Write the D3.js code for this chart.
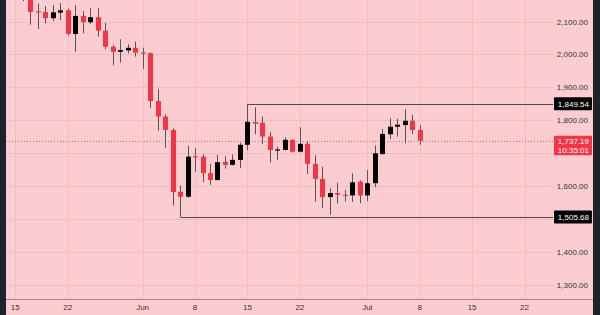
<!DOCTYPE html>
<html>
<head>
<meta charset="utf-8">
<script src="https://cdn.jsdelivr.net/npm/d3@7"></script>
<style>
  html, body { margin: 0; padding: 0; background: #fccdd0; }
  #svg-container { width: 600px; height: 315px; }
  text { font-family: "Liberation Sans", Arial, sans-serif; }
</style>
</head>
<body>
<div id="svg-container"></div>
<script>
////////////////////////////////////////////////////////////////////
////////////////////////////  Data  ////////////////////////////////
const dates = [
  "2022-05-16", "2022-05-17", "2022-05-18", "2022-05-19", "2022-05-20", "2022-05-21",
  "2022-05-22", "2022-05-23", "2022-05-24", "2022-05-25", "2022-05-26", "2022-05-27",
  "2022-05-28", "2022-05-29", "2022-05-30", "2022-05-31", "2022-06-01", "2022-06-02",
  "2022-06-03", "2022-06-04", "2022-06-05", "2022-06-06", "2022-06-07", "2022-06-08",
  "2022-06-09", "2022-06-10", "2022-06-11", "2022-06-12", "2022-06-13", "2022-06-14",
  "2022-06-15", "2022-06-16", "2022-06-17", "2022-06-18", "2022-06-19", "2022-06-20",
  "2022-06-21", "2022-06-22", "2022-06-23", "2022-06-24", "2022-06-25", "2022-06-26",
  "2022-06-27", "2022-06-28", "2022-06-29", "2022-06-30", "2022-07-01", "2022-07-02",
  "2022-07-03", "2022-07-04", "2022-07-05", "2022-07-06", "2022-07-07", "2022-07-08",
];
const open = [
  2200, 2180, 2131, 2129, 2110, 2127, 2134, 2062, 2117, 2098, 2113, 2072,
  2023, 2008, 2012, 2020, 2006, 2004, 1858, 1811, 1770, 1582, 1567, 1690,
  1689, 1639, 1618, 1673, 1664, 1679, 1725, 1794, 1792, 1750, 1708, 1709,
  1740, 1704, 1728, 1667, 1621, 1566, 1578, 1573, 1571, 1613, 1571, 1608,
  1697, 1757, 1780, 1785, 1798, 1770,
];
const high = [
  2230, 2190, 2155, 2147, 2150, 2156, 2140, 2150, 2132, 2140, 2140, 2096,
  2029, 2046, 2031, 2039, 2020, 2006, 1894, 1818, 1775, 1601, 1722, 1715,
  1696, 1667, 1694, 1691, 1696, 1731, 1849.54, 1839, 1811, 1765, 1719, 1748,
  1742, 1778, 1735, 1693, 1658, 1593, 1610, 1588, 1638, 1617, 1648, 1723,
  1773, 1806, 1804, 1833, 1816, 1784,
];
const low = [
  2162, 2090, 2077, 2094, 2102, 2104, 2057, 2008, 2064, 2092, 2054, 2015,
  1967, 1975, 2003, 1993, 1956, 1838, 1768, 1716, 1540, 1505.68, 1564, 1643,
  1611, 1603, 1616, 1652, 1662, 1654, 1709, 1757, 1727, 1671, 1679, 1708,
  1701, 1702, 1636, 1552, 1532, 1512, 1547, 1552, 1551, 1547, 1554, 1596,
  1694, 1743, 1750, 1730, 1758, 1725,
];
const close = [
  2180, 2129, 2129, 2110, 2128, 2134, 2062, 2117, 2098, 2113, 2072, 2023,
  2008, 2013, 2020, 2005, 2004, 1858, 1811, 1770, 1581, 1567, 1689, 1688,
  1639, 1618, 1672, 1664, 1679, 1725, 1795, 1789, 1750, 1709, 1711, 1740,
  1704, 1728, 1667, 1621, 1566, 1578, 1573, 1571, 1611, 1571, 1608, 1699,
  1758, 1780, 1786, 1798, 1770, 1737.19,
];

const priceTicks = [1300, 1400, 1500, 1600, 1700, 1800, 1900, 2000, 2100];
const timeTicks = [
  "2022-05-15", "2022-05-22", "2022-06-01", "2022-06-08", "2022-06-15",
  "2022-06-22", "2022-07-01", "2022-07-08", "2022-07-15", "2022-07-22",
];
const timeLabels = ["15", "22", "Jun", "8", "15", "22", "Jul", "8", "15", "22"];

// horizontal levels drawn from a candle's wick to the price scale
const levels = [
  { date: "2022-06-15", price: 1849.54 },
  { date: "2022-06-06", price: 1505.68 },
];
const lastPrice = 1737.19;
const countdown = "10:35:01";

////////////////////////////////////////////////////////////////////
////////////////////////////  Init  ///////////////////////////////
const width = 600;
const height = 315;
const plot = { left: 6, right: 553, top: 0, bottom: 299 };

const svg = d3
  .select("#svg-container")
  .append("svg")
  .attr("width", width)
  .attr("height", height);

const parse = d3.utcParse("%Y-%m-%d");
const data = dates.map((d, i) => ({
  date: parse(d),
  open: open[i],
  high: high[i],
  low: low[i],
  close: close[i],
}));

// scales
const xScale = d3
  .scaleUtc()
  .domain([parse("2022-05-15"), parse("2022-07-22")])
  .range([15.3, 524.5]);

const yScale = d3.scaleLinear().domain([1300, 2100]).range([284.5, 21.5]);

const fmt = d3.format(",.2f");
const red = "#f23645";

// background
svg
  .append("rect")
  .attr("width", width)
  .attr("height", height)
  .attr("fill", "#fccdd0");

// grid
svg
  .append("g")
  .selectAll("line")
  .data(priceTicks)
  .join("line")
  .attr("x1", plot.left)
  .attr("x2", plot.right)
  .attr("y1", (d) => Math.round(yScale(d)) + 0.5)
  .attr("y2", (d) => Math.round(yScale(d)) + 0.5)
  .attr("stroke", "#f1bcc0");

svg
  .append("g")
  .selectAll("line")
  .data(timeTicks)
  .join("line")
  .attr("x1", (d) => Math.round(xScale(parse(d))) + 0.5)
  .attr("x2", (d) => Math.round(xScale(parse(d))) + 0.5)
  .attr("y1", plot.top)
  .attr("y2", plot.bottom)
  .attr("stroke", "#f1bcc0");

// last price line (dotted)
svg
  .append("line")
  .attr("x1", plot.left)
  .attr("x2", plot.right)
  .attr("y1", Math.round(yScale(lastPrice)) + 0.5)
  .attr("y2", Math.round(yScale(lastPrice)) + 0.5)
  .attr("stroke", red)
  .attr("stroke-opacity", 0.7)
  .attr("stroke-dasharray", "1,2");

// level lines
svg
  .append("g")
  .selectAll("path")
  .data(levels)
  .join("path")
  .attr("d", (d) => {
    const x = Math.round(xScale(parse(d.date))) + 0.5;
    const y = Math.round(yScale(d.price)) + 0.5;
    return `M${x},${y}H${plot.right}`;
  })
  .attr("fill", "none")
  .attr("stroke", "#4a4a4a")
  .attr("stroke-width", 1);

////////////////////////////////////////////////////////////////////
////////////////////////////  Candles  /////////////////////////////
const bodyW = 5;
const candles = svg
  .append("g")
  .selectAll("g")
  .data(data)
  .join("g")
  .attr("transform", (d) => `translate(${Math.round(xScale(d.date))},0)`);

candles
  .append("line")
  .attr("x1", 0.5)
  .attr("x2", 0.5)
  .attr("y1", (d) => yScale(d.high))
  .attr("y2", (d) => yScale(d.low))
  .attr("stroke", "#555");

candles
  .append("rect")
  .attr("x", -2)
  .attr("width", bodyW)
  .attr("y", (d) => yScale(Math.max(d.open, d.close)))
  .attr("height", (d) =>
    Math.max(1.2, Math.abs(yScale(d.open) - yScale(d.close)))
  )
  .attr("fill", (d) => (d.close >= d.open ? "#000" : red));

////////////////////////////////////////////////////////////////////
////////////////////////////  Axes  ////////////////////////////////
// price labels hidden behind the tags are skipped, as the platform does
const tagPrices = levels.map((d) => d.price).concat([lastPrice]);
const visibleTicks = priceTicks.filter((t) =>
  tagPrices.every((p) => {
    const dy = yScale(t) - yScale(p);
    return p === lastPrice ? dy < -8 || dy > 17 : Math.abs(dy) > 11;
  })
);

svg
  .append("g")
  .selectAll("text")
  .data(visibleTicks)
  .join("text")
  .attr("x", 588)
  .attr("y", (d) => yScale(d) + 3)
  .attr("text-anchor", "end")
  .attr("font-size", 8)
  .attr("fill", "#333")
  .text((d) => fmt(d));

svg
  .append("g")
  .selectAll("text")
  .data(timeTicks)
  .join("text")
  .attr("x", (d) => xScale(parse(d)))
  .attr("y", 310)
  .attr("text-anchor", "middle")
  .attr("font-size", 8)
  .attr("fill", "#333")
  .text((d, i) => timeLabels[i]);

// bottom axis line
svg
  .append("line")
  .attr("x1", plot.left)
  .attr("x2", 593)
  .attr("y1", plot.bottom + 0.5)
  .attr("y2", plot.bottom + 0.5)
  .attr("stroke", "#a0898c");

// level labels
const levelTags = svg.append("g").selectAll("g").data(levels).join("g");
levelTags
  .append("rect")
  .attr("x", 554)
  .attr("y", (d) => yScale(d.price) - 6.5)
  .attr("width", 38)
  .attr("height", 13)
  .attr("rx", 1)
  .attr("fill", "#000");
levelTags
  .append("text")
  .attr("x", 589)
  .attr("y", (d) => yScale(d.price) + 3)
  .attr("text-anchor", "end")
  .attr("font-size", 8)
  .attr("fill", "#fff")
  .text((d) => fmt(d.price));

// last price label
const yLast = yScale(lastPrice);
svg
  .append("rect")
  .attr("x", 554)
  .attr("y", yLast - 5)
  .attr("width", 38)
  .attr("height", 19.5)
  .attr("rx", 1)
  .attr("fill", red);
svg
  .append("text")
  .attr("x", 589)
  .attr("y", yLast + 3)
  .attr("text-anchor", "end")
  .attr("font-size", 8)
  .attr("fill", "#fff")
  .text(fmt(lastPrice));
svg
  .append("text")
  .attr("x", 589)
  .attr("y", yLast + 12)
  .attr("text-anchor", "end")
  .attr("font-size", 8)
  .attr("fill", "#fff")
  .text(countdown);

// dark frame strips
svg.append("rect").attr("x", 0).attr("width", 6).attr("height", height).attr("fill", "#1e222d");
svg.append("rect").attr("x", 593).attr("width", 7).attr("height", height).attr("fill", "#1e222d");
</script>
</body>
</html>
